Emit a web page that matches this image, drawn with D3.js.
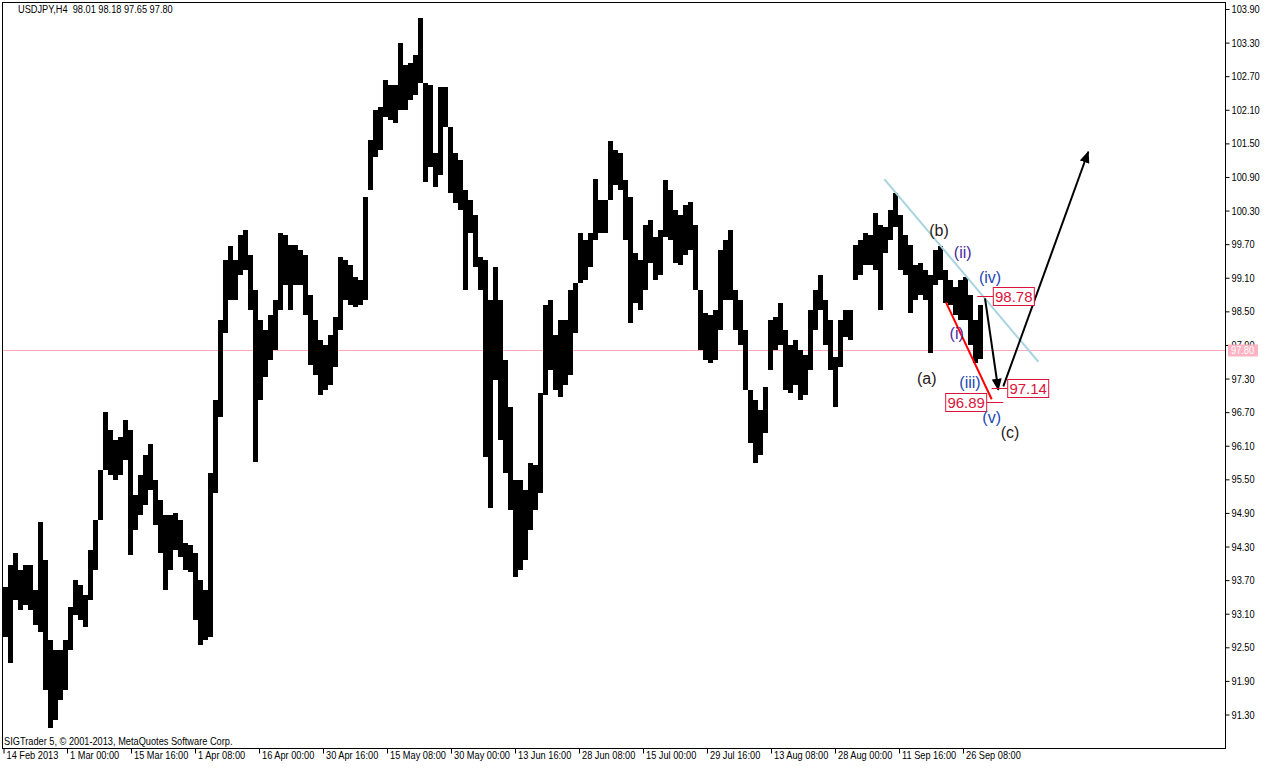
<!DOCTYPE html>
<html><head><meta charset="utf-8">
<script src="https://cdn.jsdelivr.net/npm/d3@7"></script>
<style>body{margin:0;background:#fff}svg{display:block}</style>
</head><body><svg id="c" width="1268" height="769"></svg>
<script>
// ---- data (USDJPY H4, each point aggregates 5 H4 bars: high / low) ----
const highs = [93.58,93.97,94.19,93.88,93.97,93.97,93.53,94.74,94.06,92.63,92.45,92.45,92.63,93.22,93.70,93.61,93.44,94.24,94.78,95.67,
96.70,96.38,96.20,96.26,96.56,96.38,95.22,95.58,95.94,96.13,95.49,95.13,94.86,94.86,94.90,94.78,94.36,94.33,94.19,93.70,
93.53,95.61,96.92,98.35,99.42,99.67,99.42,99.86,99.95,99.51,98.88,98.35,98.17,98.44,98.70,99.90,99.86,99.69,99.69,99.60,
99.51,98.79,98.35,97.99,97.90,98.08,98.40,99.47,99.42,99.33,99.11,99.06,100.54,101.56,102.10,102.15,102.63,102.54,102.54,103.29,
102.90,102.94,103.08,103.74,102.58,102.54,101.33,102.51,102.51,101.79,101.33,101.20,100.67,100.49,100.22,99.47,99.42,98.70,99.29,98.70,
97.63,96.79,95.49,95.49,95.31,95.79,95.76,97.04,98.61,98.70,98.08,98.35,98.35,98.88,99.01,99.90,99.77,99.90,100.86,100.49,
100.49,101.54,101.38,101.33,100.85,100.54,99.54,99.42,100.04,100.13,99.83,99.95,100.85,100.67,100.31,100.22,100.40,100.45,100.04,98.88,
98.47,98.44,98.53,99.60,99.77,99.95,98.88,98.70,98.17,97.10,96.92,96.74,97.15,98.35,98.40,98.65,98.17,97.90,97.99,97.81,
97.72,98.53,98.88,99.15,98.70,98.35,97.69,98.35,98.53,98.53,99.69,99.77,99.90,99.86,100.26,100.04,100.01,100.31,100.61,100.22,
99.86,99.69,99.33,99.36,99.24,99.15,99.60,99.67,99.24,99.06,98.94,99.06,99.11,98.79,98.35,98.61];
const lows = [92.69,92.22,93.35,93.17,93.26,93.17,92.90,92.78,91.74,91.06,91.20,91.56,91.74,92.45,93.08,92.99,92.86,93.35,93.88,94.78,
95.67,95.58,95.49,95.58,95.85,94.15,94.60,94.86,95.04,95.31,94.69,94.19,93.53,93.88,94.24,94.11,93.88,93.85,92.99,92.54,
92.63,92.69,95.26,96.61,98.11,98.70,98.70,99.15,99.24,98.53,95.81,96.92,97.33,97.63,97.81,98.53,98.97,98.53,98.97,98.97,
98.44,97.54,97.36,97.01,97.10,97.19,97.51,98.17,98.70,98.61,98.58,98.61,98.70,100.67,101.26,101.38,101.97,101.92,101.86,102.10,
102.10,102.28,102.36,102.58,100.81,101.08,100.72,100.94,101.79,100.61,100.44,100.31,98.88,99.90,99.29,98.88,95.90,94.99,97.28,96.20,
95.61,94.95,93.76,93.88,94.06,94.60,94.95,95.26,97.01,97.45,97.10,96.97,97.19,97.36,98.11,99.01,99.06,99.29,99.77,99.90,
99.90,100.49,100.76,100.67,99.77,98.29,98.65,98.53,98.88,99.36,99.06,99.15,99.83,99.77,99.36,99.33,99.51,99.60,98.88,97.81,
97.63,97.58,97.63,98.17,98.70,98.70,98.17,97.90,97.10,96.15,95.79,95.94,96.33,97.45,97.81,97.90,97.10,97.04,97.19,96.92,
97.01,97.45,98.17,98.53,97.90,97.45,96.79,97.51,98.04,97.99,99.06,99.15,99.33,99.33,99.24,98.53,99.54,99.77,100.01,99.24,
99.15,98.47,98.70,98.79,98.70,97.76,98.97,99.06,98.65,98.61,98.44,98.35,98.35,97.90,97.58,97.65];
const barsPerPoint = 5;
const header = "USDJPY,H4  98.01 98.18 97.65 97.80";
const copyright = "SIGTrader 5, \u00A9 2001-2013, MetaQuotes Software Corp.";
const lastPrice = 97.80;
const yTicks = [103.90,103.30,102.70,102.10,101.50,100.90,100.30,99.70,99.10,98.50,97.90,97.30,96.70,96.10,95.50,94.90,94.30,93.70,93.10,92.50,91.90,91.30];
const xTickLabels = ["14 Feb 2013","1 Mar 00:00","15 Mar 16:00","1 Apr 08:00","16 Apr 00:00","30 Apr 16:00","15 May 08:00","30 May 00:00","13 Jun 16:00","28 Jun 08:00","15 Jul 00:00","29 Jul 16:00","13 Aug 08:00","28 Aug 00:00","11 Sep 16:00","26 Sep 08:00"];
const xTickBars = [0,63.5,127.5,191.5,255.5,319.5,383.5,447.5,511.5,575.5,639.5,703.5,767.5,831.5,895.5,959.5];
// annotations (bar index, price)
const trendLine = [[881.3,100.86],[1035.3,97.60]];
const redLine = [[943,98.66],[988.7,96.93]];
const arrowDown = [[982,98.73],[995.3,97.10]];
const arrowUp = [[1000.3,97.16],[1085.3,101.35]];
const waveLabels = [
  {t:"(a)",b:923.7,p:97.31,c:"#2a2018"},{t:"(b)",b:936,p:99.95,c:"#2a2018"},{t:"(c)",b:1007,p:96.33,c:"#2a2018"},
  {t:"(i)",b:953.7,p:98.11,c:"#4a2aa0"},{t:"(ii)",b:959.7,p:99.55,c:"#4a2aa0"},
  {t:"(iii)",b:967,p:97.24,c:"#2446b4"},{t:"(iv)",b:987,p:99.10,c:"#2446b4"},{t:"(v)",b:988.7,p:96.60,c:"#2446b4"}];
const priceLevels = [
  {v:"98.78",p:98.78,b0:974.3,b1:990.3,side:"right"},
  {v:"97.14",p:97.14,b0:988.7,b1:1004.7,side:"right"},
  {v:"96.89",p:96.89,b0:983.7,b1:1000.3,side:"left"}];

// ---- drawing ----
const W=1268,H=769, L=2.5, T=2.5, R=1225.5, B=748.5;
const SX=0.84; // horizontal squeeze to mimic the narrow terminal font
const svg=d3.select("#c");
svg.append("rect").attr("width",W).attr("height",H).attr("fill","#fff");
const x=d3.scaleLinear().domain([0,1000]).range([3,1003]);
const y=d3.scaleLinear().domain([91.30,103.90]).range([714.5,9]);
const smallFont="'Liberation Sans',Arial,sans-serif";
const bigFont="'Liberation Sans',Arial,sans-serif";

// last price line
const lpY=Math.floor(y(lastPrice))+0.5;
svg.append("line").attr("x1",L).attr("x2",R).attr("y1",lpY).attr("y2",lpY)
  .attr("stroke","#ffa8bc").attr("stroke-width",1).attr("shape-rendering","crispEdges");

// bars
const pts=highs.map((h,i)=>({i,h,l:lows[i]}));
svg.append("g").attr("shape-rendering","crispEdges").selectAll("rect").data(pts).join("rect")
  .attr("x",d=>x(d.i*barsPerPoint))
  .attr("width",barsPerPoint)
  .attr("y",d=>y(d.h))
  .attr("height",d=>y(d.l)-y(d.h))
  .attr("fill","#000");

// frame
svg.append("rect").attr("x",L).attr("y",T).attr("width",R-L).attr("height",B-T)
  .attr("fill","none").attr("stroke","#000").attr("stroke-width",1);

// y axis (right)
const ya=svg.append("g").attr("transform",`translate(${R},0)`)
  .call(d3.axisRight(y).tickValues(yTicks).tickSize(4).tickPadding(0).tickFormat(d3.format(".2f")));
ya.select(".domain").remove();
ya.selectAll("text").attr("font-family",smallFont).attr("font-size",11).attr("fill","#000")
  .attr("x",6/SX).attr("transform",`scale(${SX},1)`);
ya.selectAll("line").attr("stroke","#000");

// last price label
svg.append("rect").attr("x",1228).attr("y",lpY-6).attr("width",30).attr("height",12).attr("fill","#ffb3c3");
svg.append("text").attr("transform",`translate(1231,${lpY}) scale(${SX},1)`).attr("dy","0.36em").text(lastPrice.toFixed(2))
  .attr("font-family",smallFont).attr("font-size",11).attr("fill","#fff");

// x axis (bottom)
const xa=svg.append("g").attr("transform",`translate(0,${B})`)
  .call(d3.axisBottom(x).tickValues(xTickBars).tickSize(5).tickFormat((d,i)=>xTickLabels[i]));
xa.select(".domain").remove();
xa.selectAll("line").attr("stroke","#000").attr("transform","translate(0.5,0)");
xa.selectAll("text").attr("font-family",smallFont).attr("font-size",11).attr("fill","#000")
  .attr("text-anchor","start").attr("x",3/SX).attr("y",3).attr("dy","0.71em").attr("transform",`scale(${SX},1)`);

// header & copyright
svg.append("text").attr("transform",`translate(18,13) scale(${SX},1)`).text(header).attr("font-family",smallFont).attr("font-size",11).attr("fill","#000").style("white-space","pre");
svg.append("text").attr("transform",`translate(4,745) scale(${SX},1)`).text(copyright).attr("font-family",smallFont).attr("font-size",11).attr("fill","#000");

// trend line
const lineGen=d3.line().x(d=>x(d[0])).y(d=>y(d[1]));
svg.append("path").attr("d",lineGen(trendLine)).attr("stroke","#a8d4e0").attr("stroke-width",2).attr("fill","none");
svg.append("path").attr("d",lineGen(redLine)).attr("stroke","#ff0000").attr("stroke-width",2).attr("fill","none");

// arrows
const defs=svg.append("defs");
defs.append("marker").attr("id","ah").attr("markerUnits","userSpaceOnUse").attr("markerWidth",12).attr("markerHeight",10)
  .attr("refX",11).attr("refY",5).attr("orient","auto").append("path").attr("d","M0,0L12,5L0,10Z").attr("fill","#000");
[arrowDown,arrowUp].forEach(a=>{
  svg.append("path").attr("d",lineGen(a)).attr("stroke","#000").attr("stroke-width",2).attr("fill","none").attr("marker-end","url(#ah)");
});

// price levels
priceLevels.forEach(pl=>{
  const py=Math.round(y(pl.p))+0.5;
  svg.append("line").attr("x1",x(pl.b0)).attr("x2",x(pl.b1)).attr("y1",py).attr("y2",py).attr("stroke","#dc143c").attr("stroke-width",1);
  const bw=41,bh=18;
  const bx= pl.side==="right"? x(pl.b1) : x(pl.b0)-bw;
  svg.append("rect").attr("x",bx).attr("y",py-bh/2).attr("width",bw).attr("height",bh).attr("fill","#fff").attr("stroke","#dc143c").attr("stroke-width",1);
  svg.append("text").attr("x",bx+bw/2).attr("y",py).attr("dy","0.36em").attr("text-anchor","middle").text(pl.v)
    .attr("font-family",bigFont).attr("font-size",15).attr("fill","#dc143c");
});

// wave labels
svg.append("g").selectAll("text").data(waveLabels).join("text")
  .attr("x",d=>x(d.b)).attr("y",d=>y(d.p)).attr("dy","0.35em").attr("text-anchor","middle")
  .text(d=>d.t).attr("font-family",bigFont).attr("font-size",16).attr("fill",d=>d.c);
</script></body></html>
